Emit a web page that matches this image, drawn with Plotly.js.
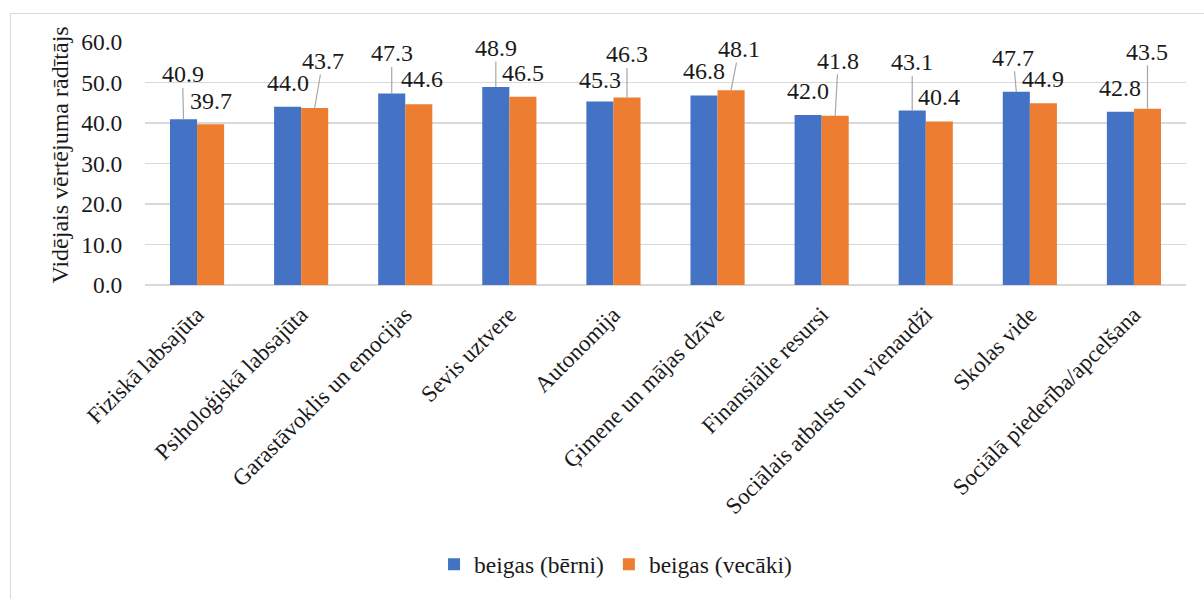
<!DOCTYPE html>
<html>
<head>
<meta charset="utf-8">
<script src="https://cdn.plot.ly/plotly-3.0.1.min.js"></script>
<style>
  html, body { margin:0; padding:0; background:#fff; overflow:hidden; }
  #frame { position:absolute; left:10px; top:13px; width:1220px; height:620px; border:1.5px solid #d9d9d9; box-sizing:border-box; }
  #chart { position:absolute; left:0; top:0; width:1204px; height:599px; }
</style>
</head>
<body>
<div id="frame"></div>
<div id="chart"></div>
<script>
// ---- data ----
const categories = [
  "Fiziskā labsajūta",
  "Psiholoģiskā labsajūta",
  "Garastāvoklis un emocijas",
  "Sevis uztvere",
  "Autonomija",
  "Ģimene un mājas dzīve",
  "Finansiālie resursi",
  "Sociālais atbalsts un vienaudži",
  "Skolas vide",
  "Sociālā piederība/apcelšana"
];
const seriesNames = ["beigas (bērni)", "beigas (vecāki)"];
const berni   = [40.9, 44.0, 47.3, 48.9, 45.3, 46.8, 42.0, 43.1, 47.7, 42.8];
const vecaki  = [39.7, 43.7, 44.6, 46.5, 46.3, 48.1, 41.8, 40.4, 44.9, 43.5];
const yTitle = "Vidējais vērtējuma rādītājs";
const yTickVals = [0, 10, 20, 30, 40, 50, 60];

// ---- label placement (pixel offsets of label centre from bar top; leader flag) ----
const berniLabelOffsets = [[-1,-45,1],[0,-24,0],[0,-40,1],[0,-39,1],[0,-22,0],[0,-24,0],[0,-24,0],[0,-48,1],[-3,-34,1],[0,-24,0]];
const vecakiLabelOffsets = [[0,-23,0],[8,-47,1],[3,-25,0],[0,-24,0],[0,-43,1],[8,-41,1],[3,-55,1],[0,-24,0],[0,-24,0],[0,-57,1]];

const FONT = "Liberation Serif, Times New Roman, serif";
const TXT = "#1a1a1a";
const colors = ["#4472C4", "#ED7D31"];
const xIdx = categories.map((c, i) => i);

const traces = [berni, vecaki].map((vals, k) => ({
  type: "bar",
  name: seriesNames[k],
  x: xIdx,
  y: vals,
  marker: { color: colors[k], line: { width: 0 } },
  hoverinfo: "skip"
}));

const half = 0.13;
const annotations = [];
[[berni, berniLabelOffsets, -half], [vecaki, vecakiLabelOffsets, half]].forEach(([vals, offs, dx]) => {
  vals.forEach((v, i) => {
    const o = offs[i];
    annotations.push({
      x: i + dx, y: v, xref: "x", yref: "y",
      text: v.toFixed(1),
      showarrow: true,
      arrowhead: 0, arrowwidth: 1.2,
      arrowcolor: o[2] ? "#a6a6a6" : "rgba(0,0,0,0)",
      ax: o[0], ay: o[1],
      standoff: 0, startstandoff: 0,
      borderpad: 0,
      font: { family: FONT, size: 24, color: TXT }
    });
  });
});

annotations.push({
  xref: "paper", yref: "paper",
  x: (60 - 145) / 1041, y: 0.533,
  xanchor: "center", yanchor: "middle",
  text: yTitle, textangle: -90, showarrow: false,
  font: { family: FONT, size: 24, color: TXT }
});

const layout = {
  width: 1204, height: 599,
  margin: { l: 145, r: 18, t: 42, b: 310.5 },
  paper_bgcolor: "rgba(0,0,0,0)",
  plot_bgcolor: "rgba(0,0,0,0)",
  barmode: "group",
  bargap: 0.48,
  bargroupgap: 0,
  font: { family: FONT, color: TXT },
  xaxis: {
    type: "linear",
    range: [-0.5, 9.5],
    tickmode: "array",
    tickvals: xIdx,
    ticktext: categories,
    tickangle: -45,
    ticks: "outside", ticklen: 6, tickcolor: "rgba(0,0,0,0)",
    tickfont: { family: FONT, size: 23, color: TXT },
    showgrid: false, zeroline: false, showline: false
  },
  yaxis: {
    range: [0, 60],
    tickvals: yTickVals,
    ticktext: yTickVals.map(v => v.toFixed(1)),
    ticks: "outside", ticklen: 17, tickcolor: "rgba(0,0,0,0)",
    tickfont: { family: FONT, size: 23.5, color: TXT },
    showgrid: true, gridcolor: "#d9d9d9", gridwidth: 1.5,
    zeroline: true, zerolinecolor: "#d9d9d9", zerolinewidth: 1.5,
    showline: false
  },
  showlegend: true,
  legend: {
    orientation: "h",
    x: 0.452, xanchor: "center",
    y: -1.150, yanchor: "middle",
    font: { family: FONT, size: 23.5, color: TXT },
    itemwidth: 30,
    tracegroupgap: 0
  },
  annotations: annotations
};

Plotly.newPlot("chart", traces, layout, { displayModeBar: false, staticPlot: true });
</script>
</body>
</html>
